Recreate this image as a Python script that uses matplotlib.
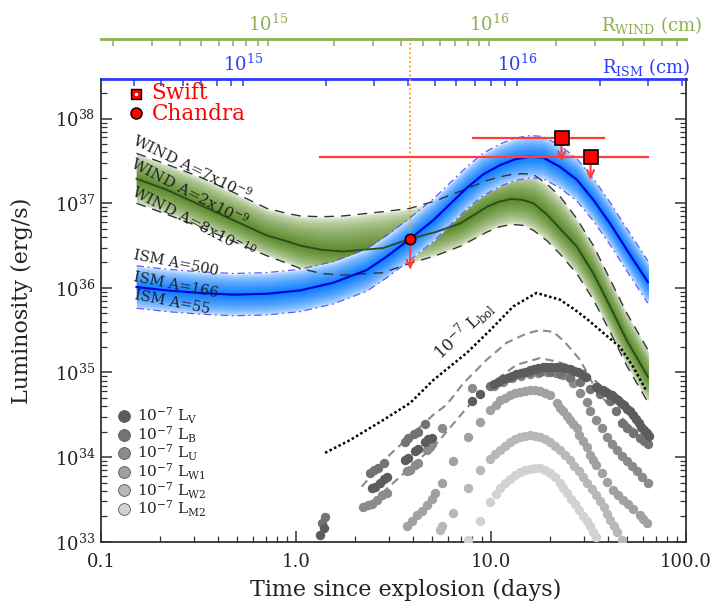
import numpy as np
import matplotlib.pyplot as plt
from matplotlib.colors import to_rgb
from matplotlib.ticker import FixedLocator, FixedFormatter, LogLocator, NullFormatter

plt.rcParams['font.family'] = 'DejaVu Serif'
plt.rcParams['mathtext.fontset'] = 'dejavuserif'

# ---- X-ray models: time (days) and log10 L (erg/s) ----
t_ism = [0.152, 0.217, 0.322, 0.477, 0.708, 1.05, 1.55, 2.30, 2.92, 3.85, 5.06,
         7.50, 9.1, 11.1, 13.3, 15.8, 18.5, 22.6, 27.5, 33.5, 40.8, 49.7, 63.7]
logL_ism_166 = [36.01, 35.97, 35.94, 35.92, 35.93, 35.97, 36.06, 36.21, 36.37, 36.58, 36.80,
                37.18, 37.34, 37.45, 37.52, 37.55, 37.54, 37.43, 37.28, 37.04, 36.76, 36.45, 36.07]
logL_ism_500 = [36.26, 36.22, 36.19, 36.17, 36.18, 36.22, 36.31, 36.46, 36.62, 36.83, 37.05,
                37.43, 37.59, 37.70, 37.77, 37.80, 37.79, 37.68, 37.53, 37.29, 37.01, 36.70, 36.32]
logL_ism_55 = [35.76, 35.72, 35.69, 35.67, 35.68, 35.72, 35.81, 35.96, 36.12, 36.33, 36.55,
               36.93, 37.09, 37.20, 37.27, 37.30, 37.29, 37.18, 37.03, 36.79, 36.51, 36.20, 35.82]

t_wind = [0.152, 0.217, 0.322, 0.477, 0.708, 0.9, 1.05, 1.35, 1.74, 2.79, 3.85, 5.2, 6.93, 9.55,
          11.0, 12.7, 14.5, 16.5, 19.3, 22.6, 27.5, 33.5, 40.8, 49.7, 63.7]
logL_wind_2e9 = [37.29, 37.16, 36.98, 36.80, 36.62, 36.55, 36.50, 36.45, 36.43, 36.47, 36.58, 36.66,
                 36.76, 36.96, 37.02, 37.05, 37.04, 37.00, 36.87, 36.70, 36.49, 36.17, 35.78, 35.38,
                 34.95]
logL_wind_7e9 = [37.59, 37.46, 37.31, 37.13, 36.94, 36.88, 36.85, 36.84, 36.85, 36.90, 36.94, 37.03,
                 37.14, 37.27, 37.31, 37.34, 37.35, 37.34, 37.23, 37.08, 36.82, 36.50, 36.10, 35.70,
                 35.27]
logL_wind_8e10 = [37.00, 36.87, 36.72, 36.55, 36.38, 36.29, 36.23, 36.17, 36.15, 36.18, 36.29, 36.38,
                  36.49, 36.66, 36.72, 36.75, 36.74, 36.68, 36.56, 36.40, 36.17, 35.86, 35.48, 35.08,
                  34.65]

# ---- optical / UV ----
t_bol = [1.41, 1.89, 2.81, 3.85, 5.06, 7.5, 9.9, 13.0, 17.1, 22.6, 27.0, 31.5, 38.0, 45.9, 53.5, 62.0]
logL_bol = [34.05, 34.20, 34.44, 34.64, 34.91, 35.23, 35.50, 35.78, 35.94, 35.86, 35.74, 35.62,
            35.46, 35.30, 35.07, 34.80]

t_dash1 = [2.17, 3.03, 5.06, 5.93, 7.2, 9.5, 12.0, 15.2, 17.8, 20.9, 23.9, 28.6, 32.2, 34.7,
           40.0, 46.0, 53.7, 60.0]
logL_dash1 = [33.65, 34.03, 34.50, 34.62, 34.87, 35.15, 35.35, 35.46, 35.50, 35.48, 35.36, 35.15,
              34.93, 34.79, 34.62, 34.48, 34.34, 34.25]
t_dash2 = [2.17, 3.28, 5.26, 7.5, 9.5, 13.5, 17.8, 21.7, 26.0, 31.0, 36.0, 42.0, 48.0, 55.0, 62.0]
logL_dash2 = [33.36, 33.73, 34.16, 34.58, 34.83, 35.09, 35.17, 35.13, 35.07, 34.98, 34.86, 34.74,
              34.63, 34.50, 34.36]

t_V = [1.33, 1.39, 2.44, 2.54, 2.70, 2.81, 2.94, 3.62, 3.77, 4.08, 4.24, 4.59, 4.77, 4.96, 7.96, 8.79,
       10.3, 10.9, 11.5, 12.1, 12.8, 13.5, 14.2, 15.0, 15.8, 16.6, 17.5, 18.4, 19.3, 20.3, 21.5, 22.7,
       24.0, 25.3, 26.6, 27.9, 29.3, 30.8, 34.7, 36.0, 37.4, 38.8, 40.2, 41.7, 43.2, 44.8, 46.4, 48.0,
       49.7, 51.5, 53.3, 55.2, 57.1, 59.0, 61.0, 63.0, 64.5]
logL_V = [33.08, 33.16, 33.63, 33.65, 33.69, 33.74, 33.77, 33.97, 33.99, 34.07, 34.10, 34.18, 34.21,
          34.23, 34.66, 34.75, 34.86, 34.89, 34.92, 34.94, 34.96, 34.98, 34.99, 35.01, 35.03, 35.04,
          35.05, 35.06, 35.07, 35.07, 35.06, 35.06, 35.05, 35.04, 35.02, 35.00, 34.98, 34.95, 34.83,
          34.81, 34.79, 34.77, 34.75, 34.73, 34.70, 34.67, 34.64, 34.61, 34.57, 34.54, 34.50, 34.45,
          34.40, 34.36, 34.32, 34.28, 34.25]
t_B = [1.36, 1.41, 2.40, 2.51, 2.64, 2.81, 3.62, 3.77, 4.02, 4.24, 4.59, 9.9, 11.1, 12.5, 14.1, 15.8,
       17.8, 20.1, 22.6, 25.4, 28.6, 32.2, 36.2, 40.8, 44.0, 46.8, 49.7, 53.7, 58.1, 61.0, 64.1]
logL_B = [33.22, 33.29, 33.81, 33.85, 33.87, 33.93, 34.18, 34.22, 34.27, 34.30, 34.39, 34.84, 34.90,
          34.95, 34.98, 35.00, 35.01, 35.00, 34.98, 34.95, 34.89, 34.80, 34.75, 34.66, 34.55, 34.40,
          34.34, 34.28, 34.22, 34.19, 34.16]
t_U = [2.21, 2.35, 2.44, 2.59, 2.75, 2.92, 3.69, 3.85, 4.08, 4.24, 4.68, 4.86, 4.96, 5.58, 7.96, 10.3,
       11.5, 12.8, 14.2, 15.8, 17.5, 19.3, 21.5, 23.5, 25.3, 26.4, 28.6, 31.0, 32.2, 34.7, 37.0, 39.2,
       41.6, 44.2, 46.8, 49.7, 52.6, 55.9, 59.5, 64.1]
logL_U = [33.41, 33.43, 33.45, 33.49, 33.55, 33.57, 33.83, 33.85, 33.91, 33.93, 34.08, 34.12, 34.16,
          34.34, 34.82, 34.84, 34.89, 34.93, 34.96, 34.98, 34.99, 35.00, 34.99, 34.97, 34.93, 34.87,
          34.76, 34.65, 34.54, 34.44, 34.34, 34.24, 34.16, 34.08, 34.01, 33.95, 33.89, 33.83, 33.76,
          33.69]
t_W1 = [3.69, 3.92, 4.16, 4.42, 4.68, 4.96, 5.16, 5.58, 6.41, 7.66, 8.78, 9.88, 10.6, 11.1, 11.8,
        12.5, 13.3, 14.1, 15.0, 15.8, 16.8, 17.8, 18.9, 20.1, 21.7, 22.6, 23.5, 24.4, 25.4, 26.4,
        27.5, 28.3, 29.6, 31.0, 32.2, 33.4, 34.7, 37.0, 39.2, 42.4, 45.0, 47.8, 50.7, 53.7, 58.1,
        60.5, 62.9]
logL_W1 = [33.18, 33.24, 33.32, 33.36, 33.43, 33.51, 33.57, 33.69, 33.95, 34.24, 34.42, 34.56, 34.62,
           34.675, 34.70, 34.73, 34.755, 34.77, 34.785, 34.79, 34.79, 34.785, 34.76, 34.73, 34.64,
           34.58, 34.54, 34.49, 34.44, 34.39, 34.34, 34.26, 34.19, 34.12, 34.02, 33.96, 33.91, 33.81,
           33.71, 33.61, 33.55, 33.49, 33.44, 33.39, 33.32, 33.27, 33.22]
t_W2 = [5.47, 5.58, 6.41, 7.66, 8.78, 9.9, 10.5, 11.1, 11.8, 12.5, 13.3, 14.1, 15.0, 15.8, 16.8, 17.8,
        18.9, 20.1, 21.3, 22.6, 24.0, 25.4, 26.7, 28.1, 29.5, 31.0, 32.8, 34.7, 36.2, 37.8, 39.2,
        40.8, 42.5, 44.2, 46.8]
logL_W2 = [33.14, 33.18, 33.34, 33.63, 33.85, 33.98, 34.04, 34.08, 34.13, 34.18, 34.21, 34.24, 34.25,
           34.26, 34.255, 34.24, 34.21, 34.18, 34.13, 34.08, 34.03, 33.97, 33.90, 33.83, 33.76, 33.69,
           33.62, 33.55, 33.48, 33.41, 33.33, 33.26, 33.19, 33.12, 33.02]
t_M2 = [7.66, 8.78, 9.9, 10.6, 11.1, 11.8, 12.5, 13.3, 14.1, 15.0, 15.8, 16.8, 17.8, 18.9, 20.1, 21.3,
        22.6, 23.5, 24.4, 25.6, 26.9, 28.3, 29.7, 30.9, 32.2, 33.4, 34.7]
logL_M2 = [33.02, 33.24, 33.47, 33.56, 33.63, 33.69, 33.74, 33.79, 33.82, 33.85, 33.86, 33.87, 33.87,
           33.85, 33.81, 33.76, 33.69, 33.63, 33.57, 33.51, 33.45, 33.37, 33.30, 33.24, 33.18, 33.12,
           33.06]

band_names = ['V', 'B', 'U', 'W1', 'W2', 'M2']
band_colors = ['#5c5c5c', '#737373', '#8b8b8b', '#a1a1a1', '#b8b8b8', '#d2d2d2']
band_t = [t_V, t_B, t_U, t_W1, t_W2, t_M2]
band_logL = [logL_V, logL_B, logL_U, logL_W1, logL_W2, logL_M2]

# ---- X-ray upper limits ----
swift_t = [23.0, 32.4]
swift_L = [5.86e37, 3.56e37]
swift_t_lo = [8.05, 1.33]
swift_t_hi = [37.9, 63.5]
chandra_t = 3.85
chandra_L = 3.79e36

RED = '#ff3b3b'
BLUE = '#2a3cff'
GREEN = '#8eae4f'
YTOP = 2.94e38

fig = plt.figure(figsize=(7.16, 6.06), dpi=100)
ax = fig.add_axes([0.1411, 0.1061, 0.8170, 0.7635])
ax.set_xscale('log')
ax.set_yscale('log')
ax.set_xlim(0.1, 100)
ax.set_ylim(1e33, YTOP)


def band(t, lo, mid, hi, c_in, c_out, z, n=40, gamma=0.55):
    t = np.asarray(t, float)
    lo, mid, hi = (np.asarray(a, float) for a in (lo, mid, hi))
    cin, cout = np.array(to_rgb(c_in)), np.array(to_rgb(c_out))
    for k in range(n):
        f = 1 - k / n
        col = cout + (cin - cout) * (1 - f) ** gamma
        ax.fill_between(t, 10 ** (mid - f * (mid - lo)), 10 ** (mid + f * (hi - mid)),
                        color=col, lw=0, zorder=z)


band(t_wind, logL_wind_8e10, logL_wind_2e9, logL_wind_7e9, '#5b8b28', '#f3f7ec', 1)
band(t_ism, logL_ism_55, logL_ism_166, logL_ism_500, '#0a7dff', '#e6f2ff', 2)

Lw = lambda a: 10 ** np.asarray(a)
ax.plot(t_wind, Lw(logL_wind_7e9), color='#333333', lw=1.0, dashes=(7, 5), zorder=3)
ax.plot(t_wind, Lw(logL_wind_8e10), color='#333333', lw=1.0, dashes=(7, 5), zorder=3)
ax.plot(t_wind, Lw(logL_wind_2e9), color='#2b4a22', lw=1.3, zorder=3)
ax.plot(t_ism, Lw(logL_ism_500), color='#5a5aff', lw=0.9, dashes=(6, 3, 1.5, 3), zorder=3.5)
ax.plot(t_ism, Lw(logL_ism_55), color='#5a5aff', lw=0.9, dashes=(6, 3, 1.5, 3), zorder=3.5)
ax.plot(t_ism, Lw(logL_ism_166), color='#0000dd', lw=1.5, zorder=3.5)

ax.plot(t_dash1, Lw(logL_dash1), color='#8a8a8a', lw=1.5, dashes=(4, 2.5), zorder=3)
ax.plot(t_dash2, Lw(logL_dash2), color='#8a8a8a', lw=1.5, dashes=(4, 2.5), zorder=3)
for name, col, tt, ll in reversed(list(zip(band_names, band_colors, band_t, band_logL))):
    ax.scatter(tt, Lw(ll), s=46, color=col, lw=0, zorder=4)
ax.plot(t_bol, Lw(logL_bol), color='black', lw=1.8, ls=(0, (1, 1)), zorder=5)

# labels on the model bands
txt = dict(fontsize=11, color='#222222', ha='center', va='center', rotation_mode='anchor', zorder=6)
ax.text(0.295, 10 ** 37.43, r'WIND A=7x10$^{-9}$', rotation=-26, **txt)
ax.text(0.285, 10 ** 37.13, r'WIND A=2x10$^{-9}$', rotation=-27.5, **txt)
ax.text(0.30, 10 ** 36.79, r'WIND A=8x10$^{-10}$', rotation=-27.5, **txt)
txt['fontsize'] = 10.5
ax.text(0.243, 10 ** 36.29, 'ISM A=500', rotation=-11, **txt)
ax.text(0.243, 10 ** 36.03, 'ISM A=166', rotation=-11, **txt)
ax.text(0.231, 10 ** 35.83, 'ISM A=55', rotation=-11, **txt)
txt['fontsize'] = 12
ax.text(7.3, 10 ** 35.50, r'10$^{-7}$ L$_{\rm bol}$', rotation=43, **txt)

# X-ray limits
ax.axvline(chandra_t, ymin=(np.log10(chandra_L) - 33) / (np.log10(YTOP) - 33), ymax=1.0864,
           color='#ff9a1a', lw=1.3, ls=(0, (1, 1.5)), clip_on=False, zorder=5)
for t0, L0, ta, tb in zip(swift_t, swift_L, swift_t_lo, swift_t_hi):
    ax.plot([ta, tb], [L0, L0], color=RED, lw=1.6, zorder=6)
    ax.annotate('', xy=(t0, L0 / 10 ** 0.31), xytext=(t0, L0), zorder=6,
                arrowprops=dict(arrowstyle='->,head_width=0.25,head_length=0.55', color=RED, lw=1.5))
ax.plot(swift_t, swift_L, 's', ms=9.5, mfc='red', mec='black', mew=1.2, zorder=8)
ax.annotate('', xy=(chandra_t, chandra_L / 10 ** 0.4), xytext=(chandra_t, chandra_L), zorder=6,
            arrowprops=dict(arrowstyle='->,head_width=0.25,head_length=0.55', color=RED, lw=1.5))
ax.plot([chandra_t], [chandra_L], 'o', ms=7.5, mfc='red', mec='black', mew=1.1, zorder=8)

# legends
tr = ax.transAxes
ax.plot([0.0602], [0.968], 's', ms=6.5, mfc='red', mec='black', mew=1.0, transform=tr, clip_on=False)
ax.plot([0.0602], [0.968], 'o', ms=1.5, color='white', transform=tr, clip_on=False)
ax.text(0.0867, 0.970, 'Swift', color='red', fontsize=15.5, va='center', transform=tr)
ax.plot([0.0598], [0.927], 'o', ms=8, mfc='red', mec='black', mew=1.0, transform=tr)
ax.text(0.0867, 0.925, 'Chandra', color='red', fontsize=15.5, va='center', transform=tr)
for i, (name, col) in enumerate(zip(band_names, band_colors)):
    y = 0.2717 - i * 0.0402
    ax.plot([0.0393], [y], 'o', ms=8.5, mfc=col, mec='#555555', mew=0.6, transform=tr)
    ax.text(0.061, y, r'10$^{-7}$ L$_{\rm %s}$' % name, fontsize=11, va='center', color='#222222',
            transform=tr)

# axes styling
ax.spines['top'].set_visible(False)
for s in ('left', 'right', 'bottom'):
    ax.spines[s].set_color('#333333')
    ax.spines[s].set_linewidth(1.3)
ax.tick_params(which='both', direction='in', top=False, right=True, colors='#333333',
               labelsize=13, labelcolor='#222222')
ax.tick_params(which='major', length=8, width=1.1, pad=4)
ax.tick_params(which='minor', length=4, width=0.9)
ax.tick_params(axis='x', pad=8)
ax.xaxis.set_major_locator(FixedLocator([0.1, 1, 10, 100]))
ax.xaxis.set_major_formatter(FixedFormatter(['0.1', '1.0', '10.0', '100.0']))
ax.xaxis.set_minor_locator(LogLocator(subs=np.arange(2, 10)))
ax.xaxis.set_minor_formatter(NullFormatter())
ax.yaxis.set_minor_locator(LogLocator(subs=np.arange(2, 10)))
ax.yaxis.set_minor_formatter(NullFormatter())
ax.set_xlabel('Time since explosion (days)', fontsize=16, color='#222222', va='center')
ax.set_ylabel('Luminosity (erg/s)', fontsize=16, color='#222222', va='center')
ax.xaxis.set_label_coords(0.52, -0.104)
ax.yaxis.set_label_coords(-0.135, 0.52)


def ism_fwd(t):
    return 1e15 * (np.clip(t, 1e-9, None) / 0.537) ** 0.712


def ism_inv(r):
    return 0.537 * (np.clip(r, 1e-9, None) / 1e15) ** (1 / 0.712)


def wind_fwd(t):
    return 1e15 * (np.clip(t, 1e-9, None) / 0.716) ** 0.880


def wind_inv(r):
    return 0.716 * (np.clip(r, 1e-9, None) / 1e15) ** (1 / 0.880)


for loc, funcs, col, label, lx, ly in [('top', (ism_fwd, ism_inv), BLUE, r'R$_{\rm ISM}$ (cm)', 1.007, 1.026),
                                       (1.0864, (wind_fwd, wind_inv), GREEN, r'R$_{\rm WIND}$ (cm)', 1.027, 1.1166)]:
    sec = ax.secondary_xaxis(loc, functions=funcs)
    sec.spines['top'].set_color(col)
    sec.spines['top'].set_linewidth(2)
    sec.xaxis.set_major_locator(FixedLocator([1e15, 1e16]))
    sec.xaxis.set_major_formatter(FixedFormatter([r'10$^{15}$', r'10$^{16}$']))
    sec.xaxis.set_minor_locator(FixedLocator([k * 10.0 ** e for e in (14, 15, 16) for k in range(2, 10)]))
    sec.xaxis.set_minor_formatter(NullFormatter())
    sec.tick_params(which='both', direction='in', colors=col, labelsize=13, length=5, width=1.1, pad=3)
    ax.text(lx, ly, label, color=col, fontsize=13, ha='right', va='center', transform=tr)

fig.savefig('out.png', dpi=100)
